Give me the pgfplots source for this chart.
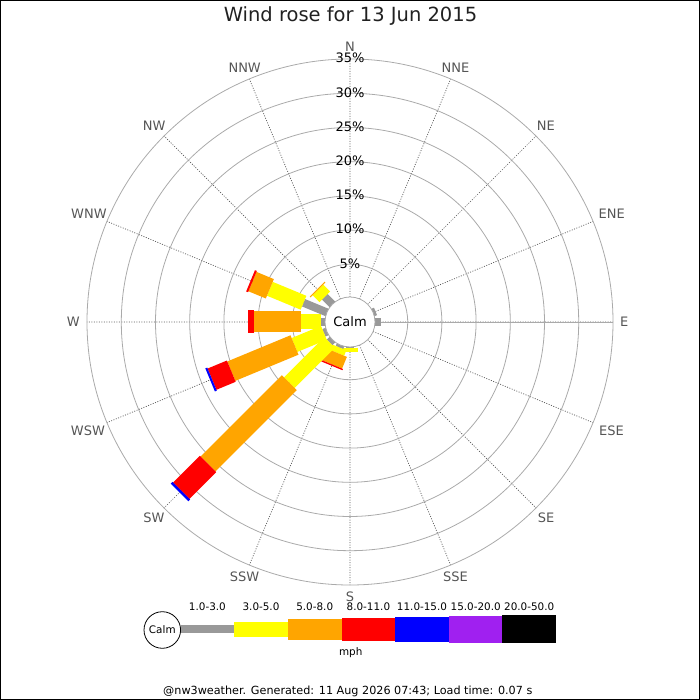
\documentclass[border=0pt]{standalone}
\usepackage{pgfplots}
\pgfplotsset{compat=1.18}
\usepgfplotslibrary{polar}
\usepackage{fontspec}
\setmainfont{DejaVu Sans}
\definecolor{ringgray}{HTML}{AAAAAA}
\definecolor{spokegray}{HTML}{555555}
\definecolor{c1}{HTML}{999999}
\definecolor{c2}{HTML}{FFFF00}
\definecolor{c3}{HTML}{FFA500}
\definecolor{c4}{HTML}{FF0000}
\definecolor{c5}{HTML}{0000FF}
\definecolor{c6}{HTML}{A020F0}
\definecolor{c7}{HTML}{000000}
% one stacked segment: colour, width, direction (deg), start %, end % (cumulative)
\newcommand{\seg}[5]{\addplot[draw=#1,line width=#2,forget plot] coordinates {(#3,#4) (#3,#5)};}
\begin{document}
\begin{tikzpicture}[x=1pt,y=1pt]
\draw[line width=1pt] (0.5,0.5) rectangle (699.5,699.5);
\begin{polaraxis}[
  at={(350pt,378pt)}, anchor=center,
  width=526pt, height=526pt, scale only axis,
  xmin=0, xmax=360, ymin=0, ymax=38.45,
  xtick={0,22.5,...,337.5},
  ytick={8.436,13.436,18.436,23.436,28.436,33.436},
  xticklabels={}, yticklabels={},
  xmajorgrids, ymajorgrids,
  x grid style={draw=spokegray, line width=0.7pt, dash pattern=on 1pt off 1.5pt},
  y grid style={draw=ringgray, line width=0.8pt},
  axis line style={draw=ringgray, line width=0.8pt},
  major tick length=0pt, tick style={draw=none},
  clip=false, no marks,
  y filter/.expression={y+3.436},
]
% ENE, E
\seg{c1}{8pt}{22.5}{0}{0.6}
\seg{c1}{8pt}{0}{0}{1.1}
% S
\seg{c1}{8pt}{270}{0}{0.3}
\seg{c2}{15pt}{270}{0.3}{0.9}
% SSW
\seg{c1}{8pt}{247.5}{0}{0.6}
\seg{c2}{15pt}{247.5}{0.6}{1.45}
\seg{c3}{21pt}{247.5}{1.45}{3.3}
\seg{c4}{23pt}{247.5}{3.3}{3.5}
% SW
\seg{c1}{8pt}{225}{0}{0.8}
\seg{c2}{15pt}{225}{0.8}{9.1}
\seg{c3}{21pt}{225}{9.1}{25.9}
\seg{c4}{23pt}{225}{25.9}{31.45}
\seg{c5}{25pt}{225}{31.45}{31.8}
% WSW
\seg{c1}{8pt}{202.5}{0}{0.7}
\seg{c2}{15pt}{202.5}{0.7}{5.35}
\seg{c3}{21pt}{202.5}{5.35}{15.35}
\seg{c4}{23pt}{202.5}{15.35}{18.4}
\seg{c5}{25pt}{202.5}{18.4}{18.7}
% W
\seg{c1}{8pt}{180}{0}{0.85}
\seg{c2}{15pt}{180}{0.85}{3.73}
\seg{c3}{21pt}{180}{3.73}{10.56}
\seg{c4}{23pt}{180}{10.56}{11.43}
% WNW
\seg{c1}{8pt}{157.5}{0}{3.92}
\seg{c2}{15pt}{157.5}{3.92}{9.25}
\seg{c3}{21pt}{157.5}{9.25}{12.0}
\seg{c4}{23pt}{157.5}{12.0}{12.3}
% NW
\seg{c1}{8pt}{135}{0}{1.77}
\seg{c2}{15pt}{135}{1.77}{3.19}
\seg{c3}{21pt}{135}{3.19}{3.35}
\end{polaraxis}
% calm circle
\draw[ringgray, fill=white, line width=0.8pt] (350,378) circle[radius=25];
\node[font=\fontsize{13}{15}\selectfont] at (350,378) {Calm};
% compass labels
\begin{scope}[shift={(350,378)}]
\foreach \a/\b/\t in {90/270/N,67.5/247.5/NNE,45/225/NE,22.5/202.5/ENE,0/180/E,-22.5/157.5/ESE,-45/135/SE,-67.5/112.5/SSE,-90/90/S,-112.5/67.5/SSW,-135/45/SW,-157.5/22.5/WSW,180/0/W,157.5/337.5/WNW,135/315/NW,112.5/292.5/NNW}
  \node[anchor=\b, inner sep=0pt, text=spokegray, font=\fontsize{13}{15}\selectfont] at (\a:270) {\t};
\foreach \k/\r in {5/57.7,10/91.9,15/126.1,20/160.3,25/194.5,30/228.7,35/262.9}
  \node[font=\fontsize{13}{15}\selectfont, inner sep=0pt] at (0,{\r+1}) {\k\%};
\end{scope}
% title
\node[anchor=base, font=\fontsize{19.5}{23}\selectfont, text=black!87] at (350.5,678.3) {Wind rose for 13 Jun 2015};
% legend
\draw[black, line width=0.8pt] (162.3,70) circle[radius=18.3];
\node[font=\fontsize{10.4}{12}\selectfont] at (162.3,70) {Calm};
\fill[c1] (180.5,66.7) rectangle (234.3,75);
\fill[c2] (234.3,63.3) rectangle (287.7,78.3);
\fill[c3] (287.7,60) rectangle (341.7,81);
\fill[c4] (341.7,59.3) rectangle (395,82.3);
\fill[c5] (395,58.3) rectangle (449,83.3);
\fill[c6] (449,57.3) rectangle (502.3,84);
\fill[c7] (502.3,56.7) rectangle (556,85);
\foreach \x/\t in {207.4/1.0-3.0,261/3.0-5.0,314.7/5.0-8.0,368.4/8.0-11.0,422/11.0-15.0,475.7/15.0-20.0,529.2/20.0-50.0}
  \node[anchor=base, inner sep=0pt, font=\fontsize{10.4}{12}\selectfont] at (\x,89.3) {\t};
\node[anchor=base, inner sep=0pt, font=\fontsize{10.4}{12}\selectfont] at (350.7,44.5) {mph};
\node[anchor=base, inner sep=0pt, font=\fontsize{11.2}{13}\selectfont] at (347.8,5.5) {@nw3weather. Generated: 11 Aug 2026 07:43; Load time: 0.07 s};
\end{tikzpicture}
\end{document}
